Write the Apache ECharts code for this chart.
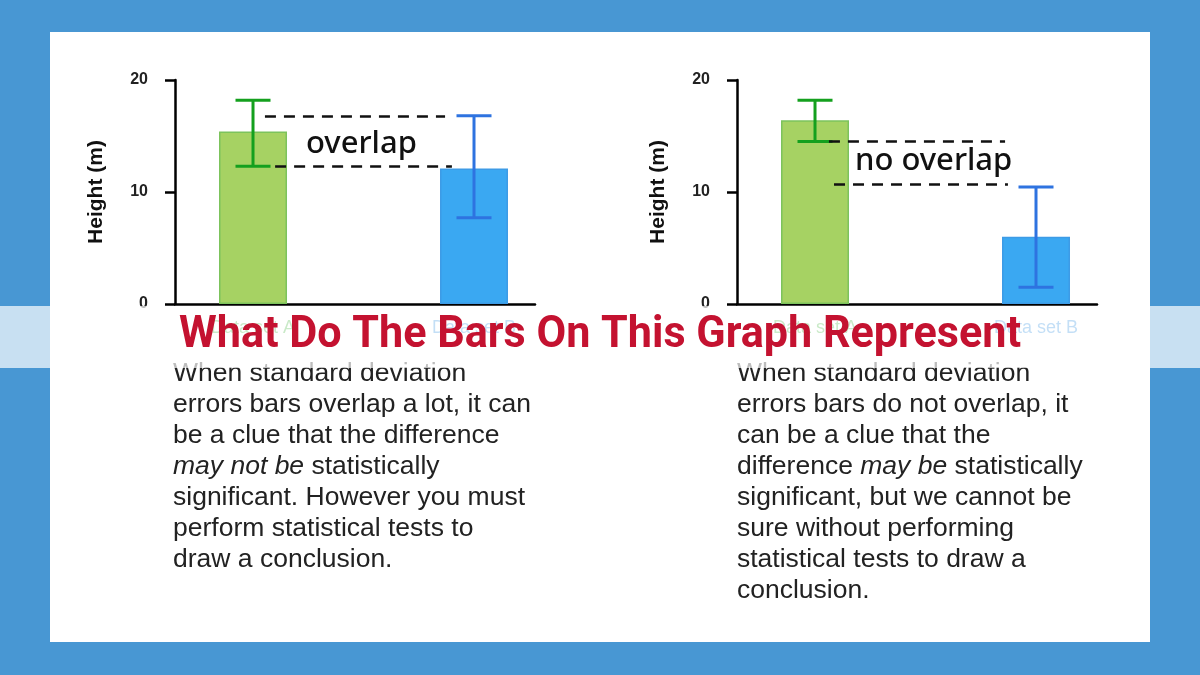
<!DOCTYPE html>
<html>
<head>
<meta charset="utf-8">
<script src="https://cdn.jsdelivr.net/npm/echarts@6/dist/echarts.min.js"></script>
<style>html,body{margin:0;padding:0;background:#4897d3;}#c{width:1200px;height:675px;}</style>
</head>
<body>
<div id="c"></div>
<script>
// ---- data ----
const categories = ['Data set A', 'Data set B'];
const categoryPos = [0.5, 1.5];
const yTickMax = 20;
const yTickStep = 10;
const yAxisName = 'Height (m)';

const leftMeans = [15.4, 12.1];
const leftLow = [12.3, 7.7];
const leftHigh = [18.2, 16.8];
const leftDashes = [[0.554, 1.369, 16.8], [0.6, 1.40, 12.3]];
const leftNote = 'overlap';

const rightMeans = [16.4, 6.0];
const rightLow = [14.5, 1.5];
const rightHigh = [18.2, 10.45];
const rightDashes = [[0.563, 1.360, 14.55], [0.586, 1.373, 10.7]];
const rightNote = 'no overlap';

const titleText = 'What Do The Bars On This Graph Represent';
const leftParagraph = 'When standard deviation\nerrors bars overlap a lot, it can\nbe a clue that the difference\n{i|may not be} statistically\nsignificant. However you must\nperform statistical tests to\ndraw a conclusion.';
const rightParagraph = 'When standard deviation\nerrors bars do not overlap, it\ncan be a clue that the\ndifference {i|may be} statistically\nsignificant, but we cannot be\nsure without performing\nstatistical tests to draw a\nconclusion.';

// ---- styles ----
const barFill = ['#a6d263', '#3aa8f2'];
const barBorder = ['#7cc35c', '#3d9be6'];
const errColor = ['#14a01e', '#2e73e0'];
const labelColor = ['#4cb846', '#3a95e2'];
const paraFont = 'Liberation Sans';
const paraSize = 26.5;

const chart = echarts.init(document.getElementById('c'));

function xAxisCfg(i) {
  return {type: 'value', gridIndex: i, min: 0.147, max: 1.776,
    axisLine: {show: true, onZero: false, lineStyle: {color: '#000', width: 2.5}},
    axisTick: {show: false}, axisLabel: {show: false}, splitLine: {show: false}};
}
function yAxisCfg(i) {
  return {type: 'value', gridIndex: i, min: 0, max: yTickMax, interval: yTickStep,
    name: yAxisName, nameLocation: 'middle', nameGap: 68, nameRotate: 90,
    nameTextStyle: {fontFamily: 'Liberation Sans', fontWeight: 'bold', fontSize: 21, color: '#111'},
    axisLine: {show: true, lineStyle: {color: '#000', width: 2.5}},
    axisTick: {show: true, length: 10, lineStyle: {color: '#000', width: 2.5}},
    axisLabel: {fontFamily: 'Liberation Sans', fontWeight: 'bold', fontSize: 16, color: '#222', margin: 27},
    splitLine: {show: false}};
}
function barSeries(i, means) {
  return {type: 'bar', xAxisIndex: i, yAxisIndex: i, barWidth: 68, z: 2,
    data: means.map((v, k) => ({
      value: [categoryPos[k], v],
      itemStyle: {color: barFill[k], borderColor: barBorder[k], borderWidth: 1.5},
      label: {show: true, position: 'bottom', distance: 15, formatter: categories[k],
        fontFamily: 'Liberation Sans', fontSize: 18, color: labelColor[k]}
    }))};
}
function errSeries(i, low, high, dashes) {
  return {type: 'custom', xAxisIndex: i, yAxisIndex: i, z: 3,
    data: low.map((l, k) => [categoryPos[k], l, high[k], k]),
    renderItem: function (params, api) {
      const x = api.value(0), lo = api.value(1), hi = api.value(2), k = api.value(3);
      const pLo = api.coord([x, lo]), pHi = api.coord([x, hi]);
      const half = 17.5;
      const st = {stroke: errColor[k], lineWidth: 3};
      return {type: 'group', children: [
        {type: 'line', shape: {x1: pLo[0], y1: pLo[1], x2: pHi[0], y2: pHi[1]}, style: st},
        {type: 'line', shape: {x1: pLo[0] - half, y1: pLo[1], x2: pLo[0] + half, y2: pLo[1]}, style: st},
        {type: 'line', shape: {x1: pHi[0] - half, y1: pHi[1], x2: pHi[0] + half, y2: pHi[1]}, style: st}
      ]};
    },
    markLine: {silent: true, symbol: 'none', label: {show: false},
      lineStyle: {type: [11, 8], color: '#111', width: 2.5},
      data: dashes.map(d => [{coord: [d[0], d[2]]}, {coord: [d[1], d[2]]}])}
  };
}
function para(text, left) {
  return {type: 'text', z: 50, left: left, top: 358, style: {text: text, fontFamily: paraFont, fontSize: paraSize, lineHeight: 31, fill: '#222',
    rich: {i: {fontStyle: 'italic', fontFamily: paraFont, fontSize: paraSize, lineHeight: 31, fill: '#222'}}}};
}

const option = {
  backgroundColor: '#4897d3',
  animation: false,
  grid: [
    {left: 175, top: 80, width: 360, height: 224},
    {left: 737, top: 80, width: 360, height: 224}
  ],
  xAxis: [xAxisCfg(0), xAxisCfg(1)],
  yAxis: [yAxisCfg(0), yAxisCfg(1)],
  series: [
    barSeries(0, leftMeans), errSeries(0, leftLow, leftHigh, leftDashes),
    barSeries(1, rightMeans), errSeries(1, rightLow, rightHigh, rightDashes)
  ],
  graphic: [
    {type: 'rect', z: -10, shape: {x: 50, y: 32, width: 1100, height: 610}, style: {fill: '#ffffff'}},
    {type: 'text', z: 50, left: 306, top: 129, style: {text: leftNote, fontFamily: 'Noto Sans', fontSize: 31, fontWeight: 500, fill: '#111'}},
    {type: 'text', z: 50, left: 855, top: 146, style: {text: rightNote, fontFamily: 'Noto Sans', fontSize: 31, fontWeight: 500, fill: '#111'}},
    para(leftParagraph, 173),
    para(rightParagraph, 737),
    {type: 'rect', z: 100, shape: {x: 0, y: 306, width: 1200, height: 62}, style: {fill: 'rgba(255,255,255,0.7)'}},
    {type: 'text', z: 101, x: 600, y: 336, scaleX: 0.98, style: {text: titleText, fontFamily: 'Roboto, sans-serif', fontWeight: 'bold', fontSize: 44,
      fill: '#c41230', align: 'center', verticalAlign: 'middle'}}
  ]
};
chart.setOption(option);
</script>
</body>
</html>
